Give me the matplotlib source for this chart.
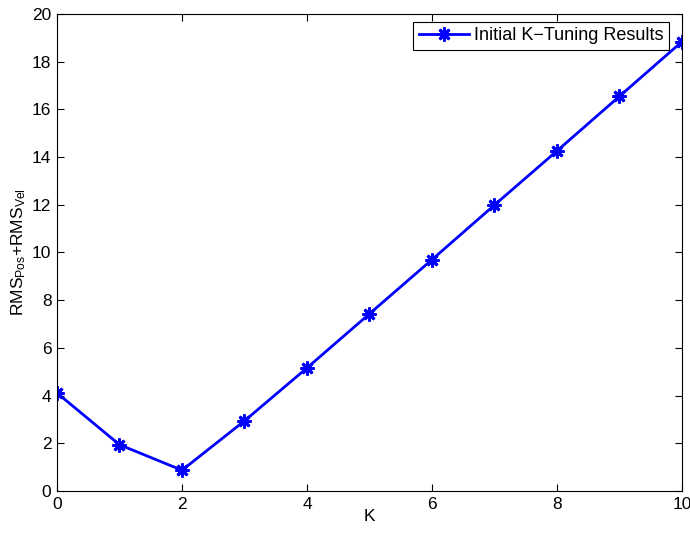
import matplotlib
matplotlib.use("Agg")
import matplotlib.pyplot as plt

# Datos
k_valores = [0, 1, 2, 3, 4, 5, 6, 7, 8, 9, 10]
rms_total = [4.11, 1.94, 0.87, 2.94, 5.16, 7.43, 9.70, 11.99, 14.26, 16.55, 18.84]

plt.rcParams['font.family'] = ['Liberation Sans', 'DejaVu Sans']
plt.rcParams['mathtext.fontset'] = 'custom'
plt.rcParams['mathtext.rm'] = 'Liberation Sans'
plt.rcParams['mathtext.it'] = 'Liberation Sans'

fig = plt.figure(figsize=(6.9, 5.37), dpi=100)
ax = fig.add_axes([0.0826, 0.0857, 0.9058, 0.8883])

ax.plot(k_valores, rms_total, color='blue', linewidth=2.0, marker=(8, 2, 0),
        markersize=10, markeredgewidth=2.0, label='Initial K\u2212Tuning Results')

ax.set_xlim(0, 10)
ax.set_ylim(0, 20)
ax.set_xticks(range(0, 11, 2))
ax.set_yticks(range(0, 21, 2))
ax.tick_params(direction='in', top=True, right=True, labelsize=12.5, length=5, pad=4)
ax.set_xlabel('K', fontsize=12.5, labelpad=-2)
ax.set_ylabel(r'RMS$_{\mathrm{Pos}}$+RMS$_{\mathrm{Vel}}$', fontsize=12.5, labelpad=3)

leg = ax.legend(loc='upper right', fontsize=13, fancybox=False, framealpha=1,
                edgecolor='black', borderpad=0.3, handlelength=2.8,
                handletextpad=0.25, bbox_to_anchor=(0.979, 0.983),
                borderaxespad=0)
leg.get_frame().set_linewidth(0.8)

fig.savefig('out.png', dpi=100)
